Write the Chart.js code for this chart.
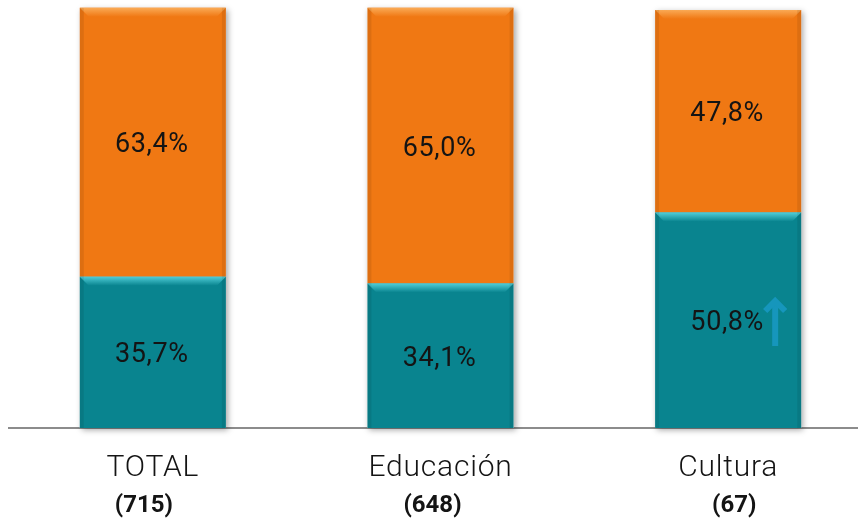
<!DOCTYPE html>
<html>
<head>
<meta charset="utf-8">
<script src="https://cdn.jsdelivr.net/npm/chart.js@4"></script>
<style>
  html, body { margin: 0; padding: 0; background: #fff; overflow: hidden; }
  #wrap { width: 872px; height: 518px; }
</style>
</head>
<body>
<div id="wrap"><canvas id="grafico"></canvas></div>
<script>
const categorias = ["TOTAL", "Educación", "Cultura"];
const totales = ["(715)", "(648)", "(67)"];
const serieBaja = [35.7, 34.1, 50.8];
const serieAlta = [63.4, 65.0, 47.8];

const naranja = "rgb(240,120,19)";
const verde = "rgb(9,132,143)";
const fmt = v => v.toFixed(1).replace(".", ",") + "%";

// bisel claro en la parte superior de cada segmento + sombra suave
const bisel = {
  id: "bisel",
  beforeDatasetsDraw(chart) {
    const ctx = chart.ctx;
    ctx.save();
    ctx.shadowColor = "rgba(0,0,0,0.35)";
    ctx.shadowBlur = 6;
    ctx.shadowOffsetX = 2;
    ctx.shadowOffsetY = 2;
    ctx.fillStyle = "#fff";
    chart.getDatasetMeta(0).data.forEach((b, i) => {
      const top = chart.getDatasetMeta(1).data[i].y;
      ctx.fillRect(b.x - b.width / 2, top, b.width, b.base - top);
    });
    ctx.restore();
  },
  afterDatasetsDraw(chart) {
    const ctx = chart.ctx;
    const luces = ["rgb(80,205,215)", "rgb(250,170,85)"];
    chart.data.datasets.forEach((ds, d) => {
      chart.getDatasetMeta(d).data.forEach(b => {
        const l = b.x - b.width / 2, r = b.x + b.width / 2, t = b.y;
        const h = 9;
        const g = ctx.createLinearGradient(0, t, 0, t + h);
        g.addColorStop(0, luces[d]);
        g.addColorStop(1, ds.backgroundColor);
        ctx.fillStyle = g;
        ctx.beginPath();
        ctx.moveTo(l, t);
        ctx.lineTo(r, t);
        ctx.lineTo(r - h, t + h);
        ctx.lineTo(l + h, t + h);
        ctx.closePath();
        ctx.fill();
        // bordes laterales algo más oscuros
        ctx.fillStyle = "rgba(0,0,0,0.08)";
        ctx.fillRect(l, t, 4, b.base - t);
        ctx.fillRect(r - 4, t, 4, b.base - t);
      });
    });
  }
};

// porcentajes dentro de las barras, etiquetas y totales bajo el eje
const textos = {
  id: "textos",
  afterDraw(chart) {
    const ctx = chart.ctx;
    ctx.save();
    ctx.textAlign = "center";
    ctx.textBaseline = "alphabetic";
    ctx.fillStyle = "#141414";
    ctx.font = "27px Roboto, sans-serif";
    ctx.letterSpacing = "0.6px";
    chart.data.datasets.forEach((ds, d) => {
      chart.getDatasetMeta(d).data.forEach((b, i) => {
        ctx.fillText(fmt(ds.data[i]), b.x - 1, (b.y + b.base) / 2 + 10);
      });
    });

    // flecha de aumento en Cultura
    const b = chart.getDatasetMeta(0).data[2];
    const ax = b.x + 47, ay0 = 299, ay1 = 346;
    ctx.strokeStyle = "rgb(22,150,188)";
    ctx.lineWidth = 6;
    ctx.lineCap = "butt";
    ctx.lineJoin = "miter";
    ctx.beginPath();
    ctx.moveTo(ax, ay1);
    ctx.lineTo(ax, ay0 + 2);
    ctx.stroke();
    ctx.beginPath();
    ctx.moveTo(ax - 10, ay0 + 12);
    ctx.lineTo(ax, ay0 + 2);
    ctx.lineTo(ax + 10, ay0 + 12);
    ctx.stroke();

    const x = chart.scales.x;
    categorias.forEach((c, i) => {
      const px = x.getPixelForValue(i);
      ctx.fillStyle = "#141414";
      ctx.font = "300 30px Roboto, sans-serif";
      ctx.letterSpacing = "0.8px";
      ctx.fillText(c, px, 476);
      ctx.font = "bold 24px Roboto, sans-serif";
      ctx.letterSpacing = "0px";
      const off = [-9, -8, 6][i];
      ctx.fillText(totales[i], px + off, 512);
    });
    ctx.restore();
  }
};

new Chart(document.getElementById("grafico"), {
  type: "bar",
  data: {
    labels: categorias,
    datasets: [
      { label: "bajo", data: serieBaja, backgroundColor: verde },
      { label: "alto", data: serieAlta, backgroundColor: naranja }
    ]
  },
  options: {
    responsive: true,
    maintainAspectRatio: false,
    animation: false,
    events: [],
    layout: { padding: { left: 9, right: 0, top: 4, bottom: 82 } },
    datasets: { bar: { barPercentage: 0.508, categoryPercentage: 1 } },
    plugins: { legend: { display: false }, tooltip: { enabled: false } },
    scales: {
      x: {
        stacked: true,
        grid: { display: false },
        border: { display: true, color: "#8c8c8c", width: 2 },
        ticks: { display: false }
      },
      y: {
        stacked: true,
        display: false,
        min: 0,
        max: 100
      }
    }
  },
  plugins: [bisel, textos]
});
</script>
</body>
</html>
